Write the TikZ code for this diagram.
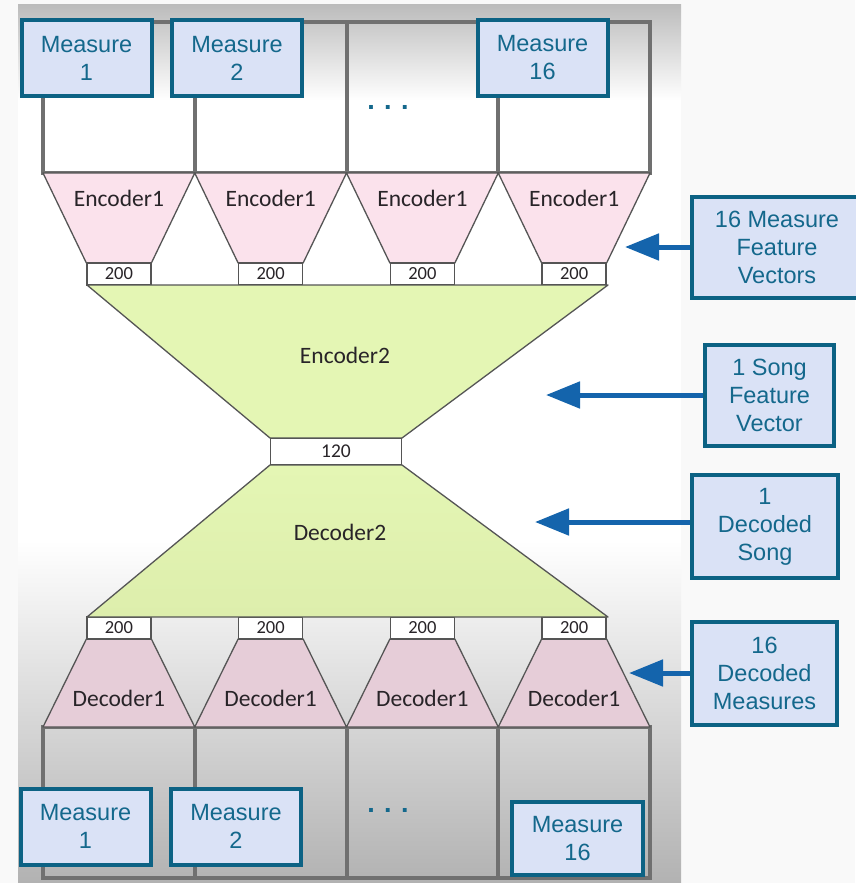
\documentclass[tikz,border=0pt]{standalone}
\usepackage{fontspec}
\setmainfont{Liberation Sans}
\newfontfamily\calibri{Carlito}
\usetikzlibrary{arrows.meta,positioning}
\definecolor{bgcol}{RGB}{249,249,249}
\definecolor{panelgray}{RGB}{188,188,188}
\definecolor{panelgrayb}{RGB}{178,178,178}
\definecolor{gridcol}{RGB}{112,112,112}
\definecolor{edgecol}{RGB}{85,85,85}
\definecolor{inktxt}{RGB}{40,36,40}
\definecolor{encpink}{RGB}{251,226,236}
\definecolor{decpink}{RGB}{230,205,216}
\definecolor{lgreen}{RGB}{228,246,180}
\definecolor{dgreen}{RGB}{221,238,172}
\definecolor{boxfill}{RGB}{218,226,246}
\definecolor{boxline}{RGB}{12,98,132}
\definecolor{boxtext}{RGB}{20,104,140}
\definecolor{arrowblue}{RGB}{20,100,172}

\begin{document}
\begin{tikzpicture}[x=1pt,y=-1pt,
  gridline/.style={draw=gridcol,line width=3.8pt},
  layer/.style={draw=edgecol,line width=1.3pt,line join=round},
  txt/.style={text=inktxt,font=\calibri\fontsize{23.5}{28}\selectfont},
  sizebox/.style={draw=edgecol,line width=1.3pt,fill=white,minimum width=64pt,minimum height=22pt,inner sep=0pt,text=inktxt,font=\calibri\fontsize{18.5}{20}\selectfont},
  tag/.style={draw=boxline,line width=4pt,fill=boxfill,text=boxtext,align=center,inner sep=0pt,font=\fontsize{23.5}{28}\selectfont},
  measure/.style={tag,minimum width=130pt,minimum height=76pt},
  dots/.style={text=boxtext,font=\bfseries\fontsize{27}{28}\selectfont},
  pointer/.style={draw=arrowblue,line width=5pt,-{Triangle[length=34pt,width=26pt]}}]
\useasboundingbox (0,0) rectangle (855,883);
\fill[bgcol] (0,0) rectangle (855,883);
\fill[white] (18,5) rectangle (681,883);
\shade[top color=panelgray,bottom color=white] (18,5) rectangle (681,100);
\shade[top color=white,bottom color=panelgrayb] (18,540) rectangle (681,883);

\draw[gridline] (43,22) rectangle (650,173);
\draw[gridline] (43,727) rectangle (650,878);
\foreach \x in {195,347,498}{
  \draw[gridline] (\x,22) -- (\x,173);
  \draw[gridline] (\x,727) -- (\x,878);
}

\foreach \i in {0,1,2,3}{
  \pgfmathsetmacro\xl{43+151.75*\i}
  \pgfmathsetmacro\xr{\xl+151.75}
  \pgfmathsetmacro\xm{\xl+75.875}
  \draw[layer,fill=encpink] (\xl,173) -- (\xr,173) -- (\xm+32.5,263) -- (\xm-32.5,263) -- cycle;
  \node[txt] (enc\i) at (\xm,198) {Encoder1};
  \node[sizebox] (ein\i) at (\xm,274) {200};
  \draw[layer,fill=decpink] (\xm-32.5,639) -- (\xm+32.5,639) -- (\xr,727) -- (\xl,727) -- cycle;
  \node[txt] (dec\i) at (\xm,698) {Decoder1};
  \node[sizebox] (dout\i) at (\xm,628) {200};
}

\draw[layer,fill=lgreen] (87,285) -- (608,285) -- (402,438) -- (270,438) -- cycle;
\path[layer,top color=lgreen,bottom color=dgreen] (270,465) -- (402,465) -- (608,617) -- (87,617) -- cycle;
\node[txt] (enc2) at (345,355) {Encoder2};
\node[txt] (dec2) at (340,532) {Decoder2};
\node[sizebox,minimum width=131pt,minimum height=26pt,font=\calibri\fontsize{19.5}{21}\selectfont] (latent) at (336,451.5) {120};

\node[measure] (m1) at (86.5,58) {Measure\\1};
\node[measure] (m2) at (237,58) {Measure\\2};
\node[dots] (topdots) at (388,107) {.\hspace{9.5pt}.\hspace{9.5pt}.};
\node[measure] (m16) at (542.5,58) {Measure\\16};

\node[measure] (om1) at (85.5,826.5) {Measure\\1};
\node[measure] (om2) at (236,826.5) {Measure\\2};
\node[dots] (botdots) at (388,810) {.\hspace{9.5pt}.\hspace{9.5pt}.};
\node[measure,minimum width=131pt,minimum height=73pt] (om16) at (577.5,838.5) {Measure\\16};

\node[tag,minimum width=170pt,minimum height=101pt] (fv) at (777,247.5) {16 Measure\\Feature\\Vectors};
\node[tag,minimum width=129pt,minimum height=101pt] (song) at (769.5,395.5) {1 Song\\Feature\\Vector};
\node[tag,minimum width=146pt,minimum height=103pt] (dsong) at (765,526.5) {1\\Decoded\\Song};
\node[tag,minimum width=145pt,minimum height=103pt] (dmeas) at (764.5,673.5) {16\\Decoded\\Measures};

\coordinate (fvtip) at (625,247);
\coordinate (songtip) at (546,395);
\coordinate (dsongtip) at (535,522);
\coordinate (dmeastip) at (629,673);
\draw[pointer] (fv.west |- fvtip) -- (fvtip);
\draw[pointer] (song.west |- songtip) -- (songtip);
\draw[pointer] (dsong.west |- dsongtip) -- (dsongtip);
\draw[pointer] (dmeas.west |- dmeastip) -- (dmeastip);
\end{tikzpicture}
\end{document}
